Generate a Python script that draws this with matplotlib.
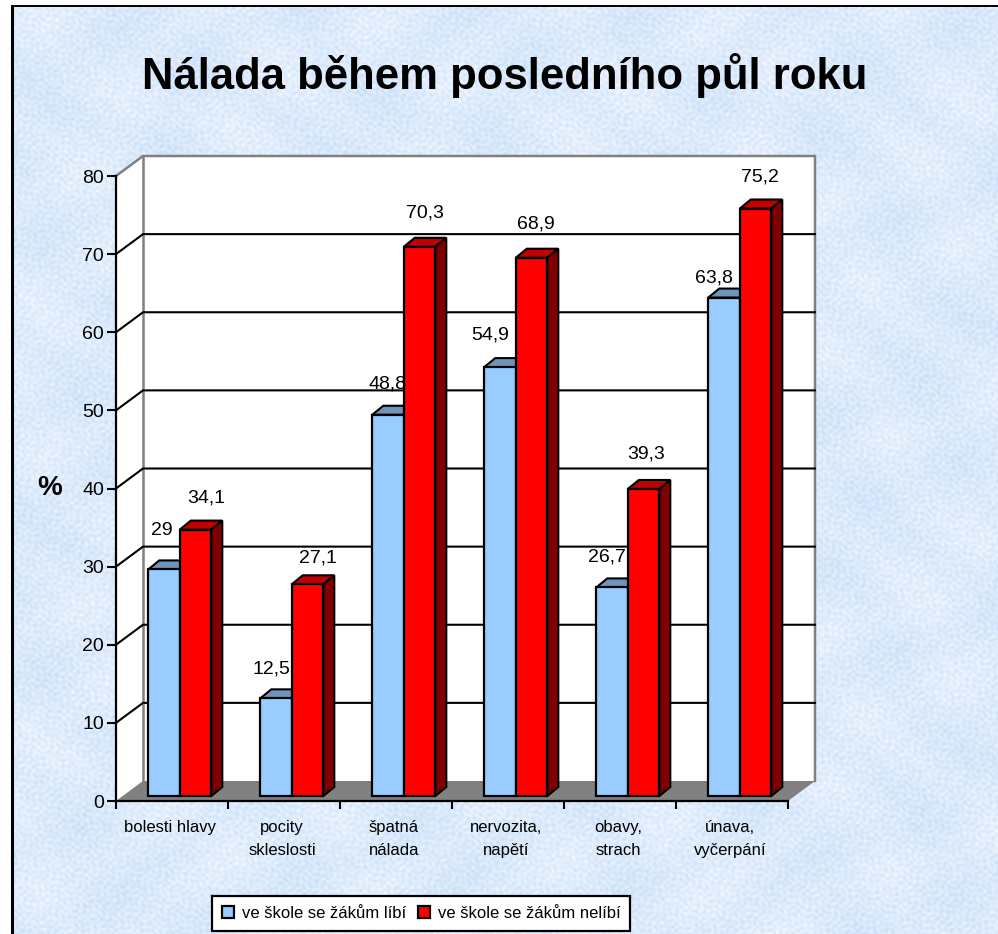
import numpy as np
import matplotlib
matplotlib.use('Agg')
import matplotlib.pyplot as plt
from matplotlib.patches import Polygon, Rectangle

plt.rcParams['font.family'] = ['Liberation Sans', 'DejaVu Sans']

### Data
categories = ['bolesti hlavy', 'pocity\nskleslosti', 'špatná\nnálada',
              'nervozita,\nnapětí', 'obavy,\nstrach', 'únava,\nvyčerpání']
likes = [29, 12.5, 48.8, 54.9, 26.7, 63.8]
dislikes = [34.1, 27.1, 70.3, 68.9, 39.3, 75.2]
likes_labels = ['29', '12,5', '48,8', '54,9', '26,7', '63,8']
dislikes_labels = ['34,1', '27,1', '70,3', '68,9', '39,3', '75,2']
series_names = ['ve škole se žákům líbí', 've škole se žákům nelíbí']
y_ticks = [0, 10, 20, 30, 40, 50, 60, 70, 80]

### Hand placed data labels, pixels from the top centre of each bar
likes_offsets = [(-2, 39), (-5, 29), (-1, 31), (-10, 32), (-5, 30), (-10, 20)]
dislikes_offsets = [(11, 32), (10, 26), (5, 34), (4, 34), (3, 35), (4, 31)]

W, H = 998, 934
fig = plt.figure(figsize=(W / 100, H / 100), dpi=100)

### Slide background, a soft mottled blue inside a black frame
bg = fig.add_axes([0, 0, 1, 1])
bg.axis('off')
yy, xx = np.mgrid[0:H, 0:W]
tex = (0.7 * np.sin(xx * 0.43 + 2.1 * np.sin(yy * 0.19)) * np.sin(yy * 0.51 - 1.7 * np.sin(xx * 0.23))
       + 0.5 * np.sin(xx * 0.83 + yy * 0.37 + 2.3 * np.sin(yy * 0.29 - xx * 0.11))
       + 0.5 * np.sin(yy * 0.97 - xx * 0.41 + 1.9 * np.sin(xx * 0.31 + yy * 0.07))
       + 0.7 * np.sin(xx * 0.037 + 1.1 * np.sin(yy * 0.029)) * np.cos(yy * 0.043 - 0.9 * np.sin(xx * 0.021)))
tex = (tex - tex.min()) / (tex.max() - tex.min())
low = np.array([196, 221, 248]) / 255
high = np.array([246, 249, 255]) / 255
bg.imshow(low + (high - low) * tex[..., None], extent=(13, W, H, 7), aspect='auto', zorder=0)
bg.set_xlim(0, W)
bg.set_ylim(H, 0)
bg.plot([12, 12], [H, 6], color='black', lw=2.2, zorder=1, solid_capstyle='butt')
bg.plot([11, W], [6, 6], color='black', lw=1.4, zorder=1, solid_capstyle='butt')

### Front plane of the 3D box is the axes itself
left, right, top, bottom = 116, 788, 176, 801
ax = fig.add_axes([left / W, (H - bottom) / H, (right - left) / W, (bottom - top) / H])
ax.patch.set_visible(False)
ax.set_xlim(0, 6)
ax.set_ylim(0, 80)

n = len(categories)
ppx = n / (right - left)      # categories per pixel
ppy = 80 / (bottom - top)     # percent per pixel
dx, dy = 27 * ppx, 20 * ppy   # box depth
bdx, bdy = 11 * ppx, 9 * ppy  # bar depth
base = 5 * ppy                # bars stand in the middle of the floor

### Walls and floor
line = dict(color='black', lw=1.5, clip_on=False, zorder=1.5)
ax.add_patch(Polygon([(0, 0), (dx, dy), (dx, 80 + dy), (0, 80)], fc='white', ec='none', clip_on=False, zorder=1))
ax.add_patch(Rectangle((dx, dy), n, 80, fc='white', ec='none', clip_on=False, zorder=1))
ax.add_patch(Polygon([(0, 0), (n, 0), (n + dx, dy), (dx, dy)], fc='#808080', ec='none', clip_on=False, zorder=1.2))
grey = dict(color='#808080', lw=1.8, clip_on=False, zorder=1.4)
ax.plot([0, dx, n + dx, n + dx], [80, 80 + dy, 80 + dy, dy], **grey)
ax.plot([dx, dx], [dy, 80 + dy], **grey)
for v in y_ticks[1:-1]:
    ax.plot([0, dx, n + dx], [v, v + dy, v + dy], **line)

### Bars
bar_w = 31.5 * ppx
start = 32.3 * ppx
x = np.arange(n) + start
pos1 = x + bar_w / 2
pos2 = x + bar_w * 1.5
bar_style = dict(width=bar_w, bottom=base, edgecolor='black', linewidth=1.6, zorder=3)
b1 = ax.bar(pos1, likes, color='#99CCFF', **bar_style)
b2 = ax.bar(pos2, dislikes, color='#FF0000', **bar_style)


def draw_depth(pos, values, top_col, side_col):
    for p, v in zip(pos, values):
        x0, x1 = p - bar_w / 2, p + bar_w / 2
        y0, y1 = base, base + v
        ax.add_patch(Polygon([(x0, y1), (x1, y1), (x1 + bdx, y1 + bdy), (x0 + bdx, y1 + bdy)],
                             fc=top_col, ec='black', lw=1.5, zorder=2.5, clip_on=False))
        ax.add_patch(Polygon([(x1, y0), (x1 + bdx, y0 + bdy), (x1 + bdx, y1 + bdy), (x1, y1)],
                             fc=side_col, ec='black', lw=1.5, zorder=2.5, clip_on=False))


draw_depth(pos1, likes, '#6F94B9', '#4C6680')
draw_depth(pos2, dislikes, '#BF0000', '#800000')

### Data labels
for pos, values, labels, offsets in [(pos1, likes, likes_labels, likes_offsets),
                                     (pos2, dislikes, dislikes_labels, dislikes_offsets)]:
    for p, v, s, off in zip(pos, values, labels, offsets):
        ax.annotate(s, (p, base + v), xytext=off, textcoords='offset pixels', ha='center',
                    va='center', fontsize=14, color='black', zorder=5, annotation_clip=False)

### Axes, ticks and labels
for s in ['top', 'right']:
    ax.spines[s].set_visible(False)
for s in ['left', 'bottom']:
    ax.spines[s].set_linewidth(1.6)
    ax.spines[s].set_zorder(4)
ax.set_yticks(y_ticks)
ax.tick_params(axis='y', length=6.5, width=1.5, pad=2, labelsize=14)
ax.set_xticks(np.arange(n + 1))
ax.set_xticklabels([])
ax.tick_params(axis='x', which='major', length=5.8, width=1.5)
ax.set_xticks(np.arange(n) + 0.5 - 2 * ppx, minor=True)
ax.set_xticklabels(categories, minor=True)
ax.tick_params(axis='x', which='minor', length=0, pad=14, labelsize=12)
for lab in ax.get_xminorticklabels():
    lab.set_linespacing(1.65)

ax.set_ylabel('%', rotation=0, fontsize=20, fontweight='bold', labelpad=0, va='center')
ax.yaxis.set_label_coords((50 - left) / (right - left), (bottom - 488) / (bottom - top))

fig.text(505 / W, 1 - 76 / H, 'Nálada během posledního půl roku', ha='center', va='center',
         fontsize=31.4, fontweight='bold', color='black')

### Legend
leg = ax.legend([b1, b2], series_names, ncol=2, loc='center', fontsize=12, frameon=True, fancybox=False,
                framealpha=1, facecolor='white', edgecolor='black', handlelength=0.75, handleheight=0.75,
                handletextpad=0.45, columnspacing=0.7, borderpad=0.6, borderaxespad=0,
                bbox_to_anchor=((421 - left) / (right - left), (bottom - 913.5) / (bottom - top)))
leg.get_frame().set_linewidth(1.6)
leg.set_zorder(6)

fig.savefig('out.png', dpi=100)
